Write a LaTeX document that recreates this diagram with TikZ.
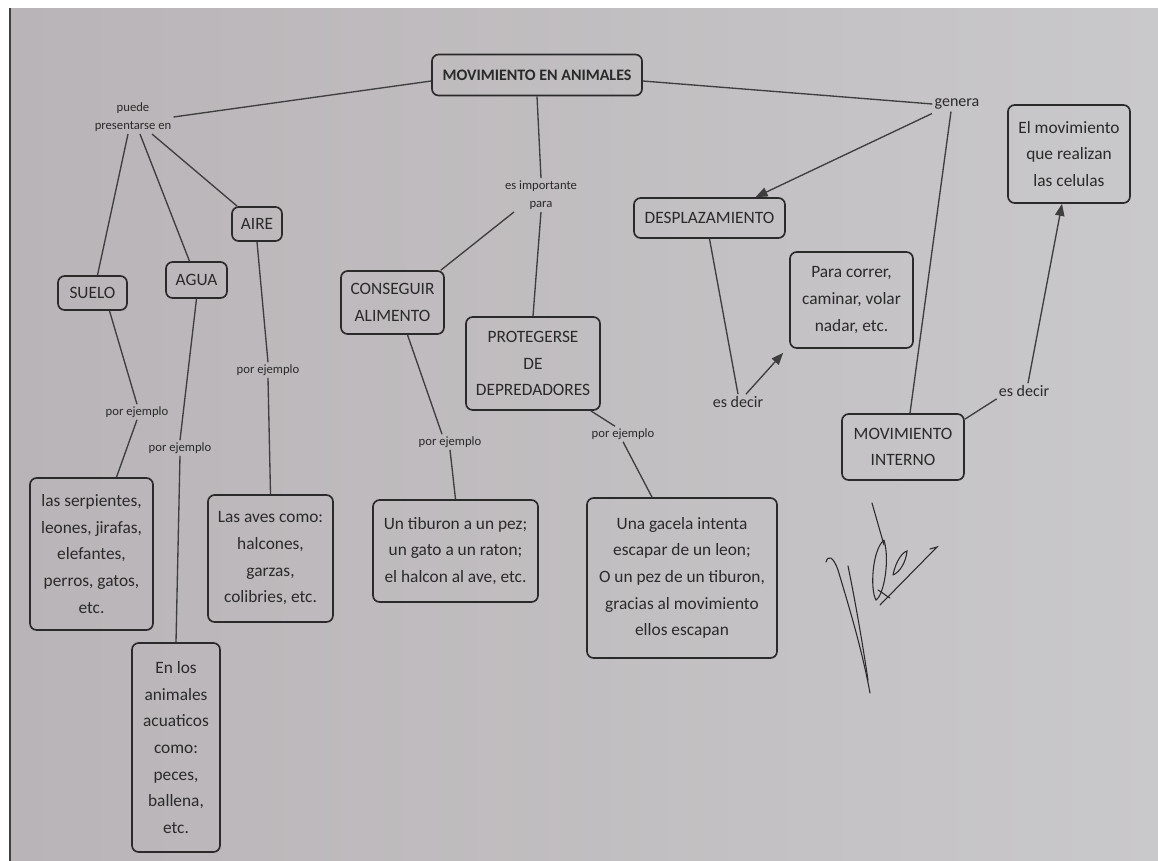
\documentclass[tikz,border=0pt]{standalone}
\usepackage{fontspec}
\setmainfont{Carlito}
\usetikzlibrary{arrows.meta,calc}
\definecolor{paperL}{HTML}{B9B4B7}
\definecolor{paperR}{HTML}{C9C8CA}
\definecolor{ink}{HTML}{2A2A2A}
\definecolor{lineink}{HTML}{3E3E3E}
\begin{document}
\begin{tikzpicture}[x=0.75pt,y=-0.75pt,
  box/.style={draw=ink, line width=1.25pt, rounded corners=5pt, text=ink,
    font=\fontsize{13}{20}\selectfont, align=center, inner sep=0pt},
  sz/.style 2 args={minimum width=#1*0.75pt, minimum height=#2*0.75pt},
  lbl/.style={text=ink, font=\fontsize{9.5}{14}\selectfont, align=center, inner sep=1.5pt},
  lblb/.style={text=ink, font=\fontsize{12}{14}\selectfont, inner sep=1.5pt},
  con/.style={draw=lineink, line width=1pt},
  arr/.style={con, -{Triangle[length=9pt,width=7pt]}},
  sig/.style={draw=ink, line width=0.8pt, line cap=round}
]
\useasboundingbox (0,0) rectangle (1158,861);
\fill[white] (0,0) rectangle (1158,861);
\shade[left color=paperL, right color=paperR] (10,8) rectangle (1158,861);
\draw[black!75, line width=2pt] (10,8) -- (10,861);

% boxes
\node[box, sz={210}{41}, font=\fontsize{12}{14}\selectfont\bfseries] (main) at (537,75) {MOVIMIENTO EN ANIMALES};
\node[box, sz={69}{34}] (suelo) at (92.5,293) {SUELO};
\node[box, sz={61}{36}] (agua) at (196.5,280) {AGUA};
\node[box, sz={50}{34}] (aire) at (257,224) {AIRE};
\node[box, sz={103}{63}] (cons) at (392.5,302.5) {CONSEGUIR\\ALIMENTO};
\node[box, sz={134}{93}] (prot) at (533,363.5) {PROTEGERSE\\DE\\DEPREDADORES};
\node[box, sz={151}{40}] (desp) at (709.5,218) {DESPLAZAMIENTO};
\node[box, sz={123}{96}] (para) at (851.5,300) {Para correr,\\caminar, volar\\nadar, etc.};
\node[box, sz={122}{98}] (elmov) at (1069,154) {El movimiento\\que realizan\\las celulas};
\node[box, sz={122}{66}] (movint) at (903,447) {MOVIMIENTO\\INTERNO};
\node[box, sz={123}{152}] (serp) at (91.5,554) {las serpientes,\\leones, jirafas,\\elefantes,\\perros, gatos,\\etc.};
\node[box, sz={125}{127}] (aves) at (270.5,558.5) {Las aves como:\\halcones,\\garzas,\\colibries, etc.};
\node[box, sz={88}{209}] (enlos) at (176,747.5) {En los\\animales\\acuaticos\\como:\\peces,\\ballena,\\etc.};
\node[box, sz={165}{102}] (tib) at (455.5,551) {Un tiburon a un pez;\\un gato a un raton;\\el halcon al ave, etc.};
\node[box, sz={190}{160}] (gac) at (682,578) {Una gacela intenta\\escapar de un leon;\\O un pez de un tiburon,\\gracias al movimiento\\ellos escapan};

% linking labels
\node[lbl] (puede) at (133,117) {puede\\presentarse en};
\node[lblb] (genera) at (957,104) {genera};
\node[lbl] (imp) at (541,195) {es importante\\para};
\node[lbl] (pe1) at (137,412) {por ejemplo};
\node[lbl] (pe2) at (180,448) {por ejemplo};
\node[lbl] (pe3) at (268,370) {por ejemplo};
\node[lbl] (pe4) at (450,442) {por ejemplo};
\node[lbl] (pe5) at (623,434) {por ejemplo};
\node[lblb] (esd1) at (738,402) {es decir};
\node[lblb] (esd2) at (1024,391) {es decir};

% connectors
\draw[con] ($(main.west)+(0,6)$) -- (puede.east);
\draw[con] ($(main.east)+(0,6)$) -- (genera.west);
\draw[con] (main.south) -- (imp.north);
\draw[con] ($(puede.south)+(-5,0)$) -- ($(suelo.north)+(5,0)$);
\draw[con] ($(puede.south)+(7,0)$) -- ($(agua.north)+(-7,0)$);
\draw[con] ($(puede.south)+(19,0)$) -- ($(aire.north west)+(6,0)$);
\draw[con] ($(imp.south)+(-27,0)$) -- ($(cons.north east)+(-4,0)$);
\draw[con] (imp.south) -- (prot.north);
\draw[arr] ($(genera.south)+(-25,2)$) -- ($(desp.north)+(46,0)$);
\draw[con] ($(genera.south)+(-6,0)$) -- ($(movint.north)+(7,0)$);
\draw[con] (desp.south) -- (esd1.north);
\draw[arr] ($(esd1.north)+(8,0)$) -- ($(para.south west)+(-6,4)$);
\draw[con] ($(movint.north east)+(0,6)$) -- (esd2.south west);
\draw[arr] ($(esd2.north)+(4,0)$) -- ($(elmov.south)+(-7,0)$);
\draw[con] ($(suelo.south)+(17,0)$) -- (pe1.north);
\draw[con] (pe1.south) -- ($(serp.north)+(25,0)$);
\draw[con] (agua.south) -- (pe2.north);
\draw[con] (pe2.south) -- (enlos.north);
\draw[con] (aire.south) -- (pe3.north);
\draw[con] (pe3.south) -- (aves.north);
\draw[con] ($(cons.south)+(15,0)$) -- ($(pe4.north)+(-8,0)$);
\draw[con] (pe4.south) -- (tib.north);
\draw[con] ($(prot.south east)+(-10,0)$) -- ($(pe5.north)+(-8,0)$);
\draw[con] (pe5.south) -- ($(gac.north)+(-30,0)$);

% signature
\draw[sig] (826,562) .. controls (828,555) and (833,556) .. (838,570) .. controls (850,610) and (862,650) .. (870,693);
\draw[sig] (848,566) .. controls (855,600) and (862,640) .. (868,680);
\draw[sig] (872,503) -- (884,545);
\draw[sig] (884,540) .. controls (872,550) and (870,590) .. (876,600) .. controls (884,595) and (890,560) .. (884,540);
\draw[sig] (893,575) .. controls (896,560) and (903,552) .. (907,551) .. controls (906,562) and (900,572) .. (893,575);
\draw[sig] (878,590) .. controls (882,592) and (886,596) .. (890,598);
\draw[sig] (880,605) -- (937,547) -- (930,549);
\end{tikzpicture}
\end{document}
